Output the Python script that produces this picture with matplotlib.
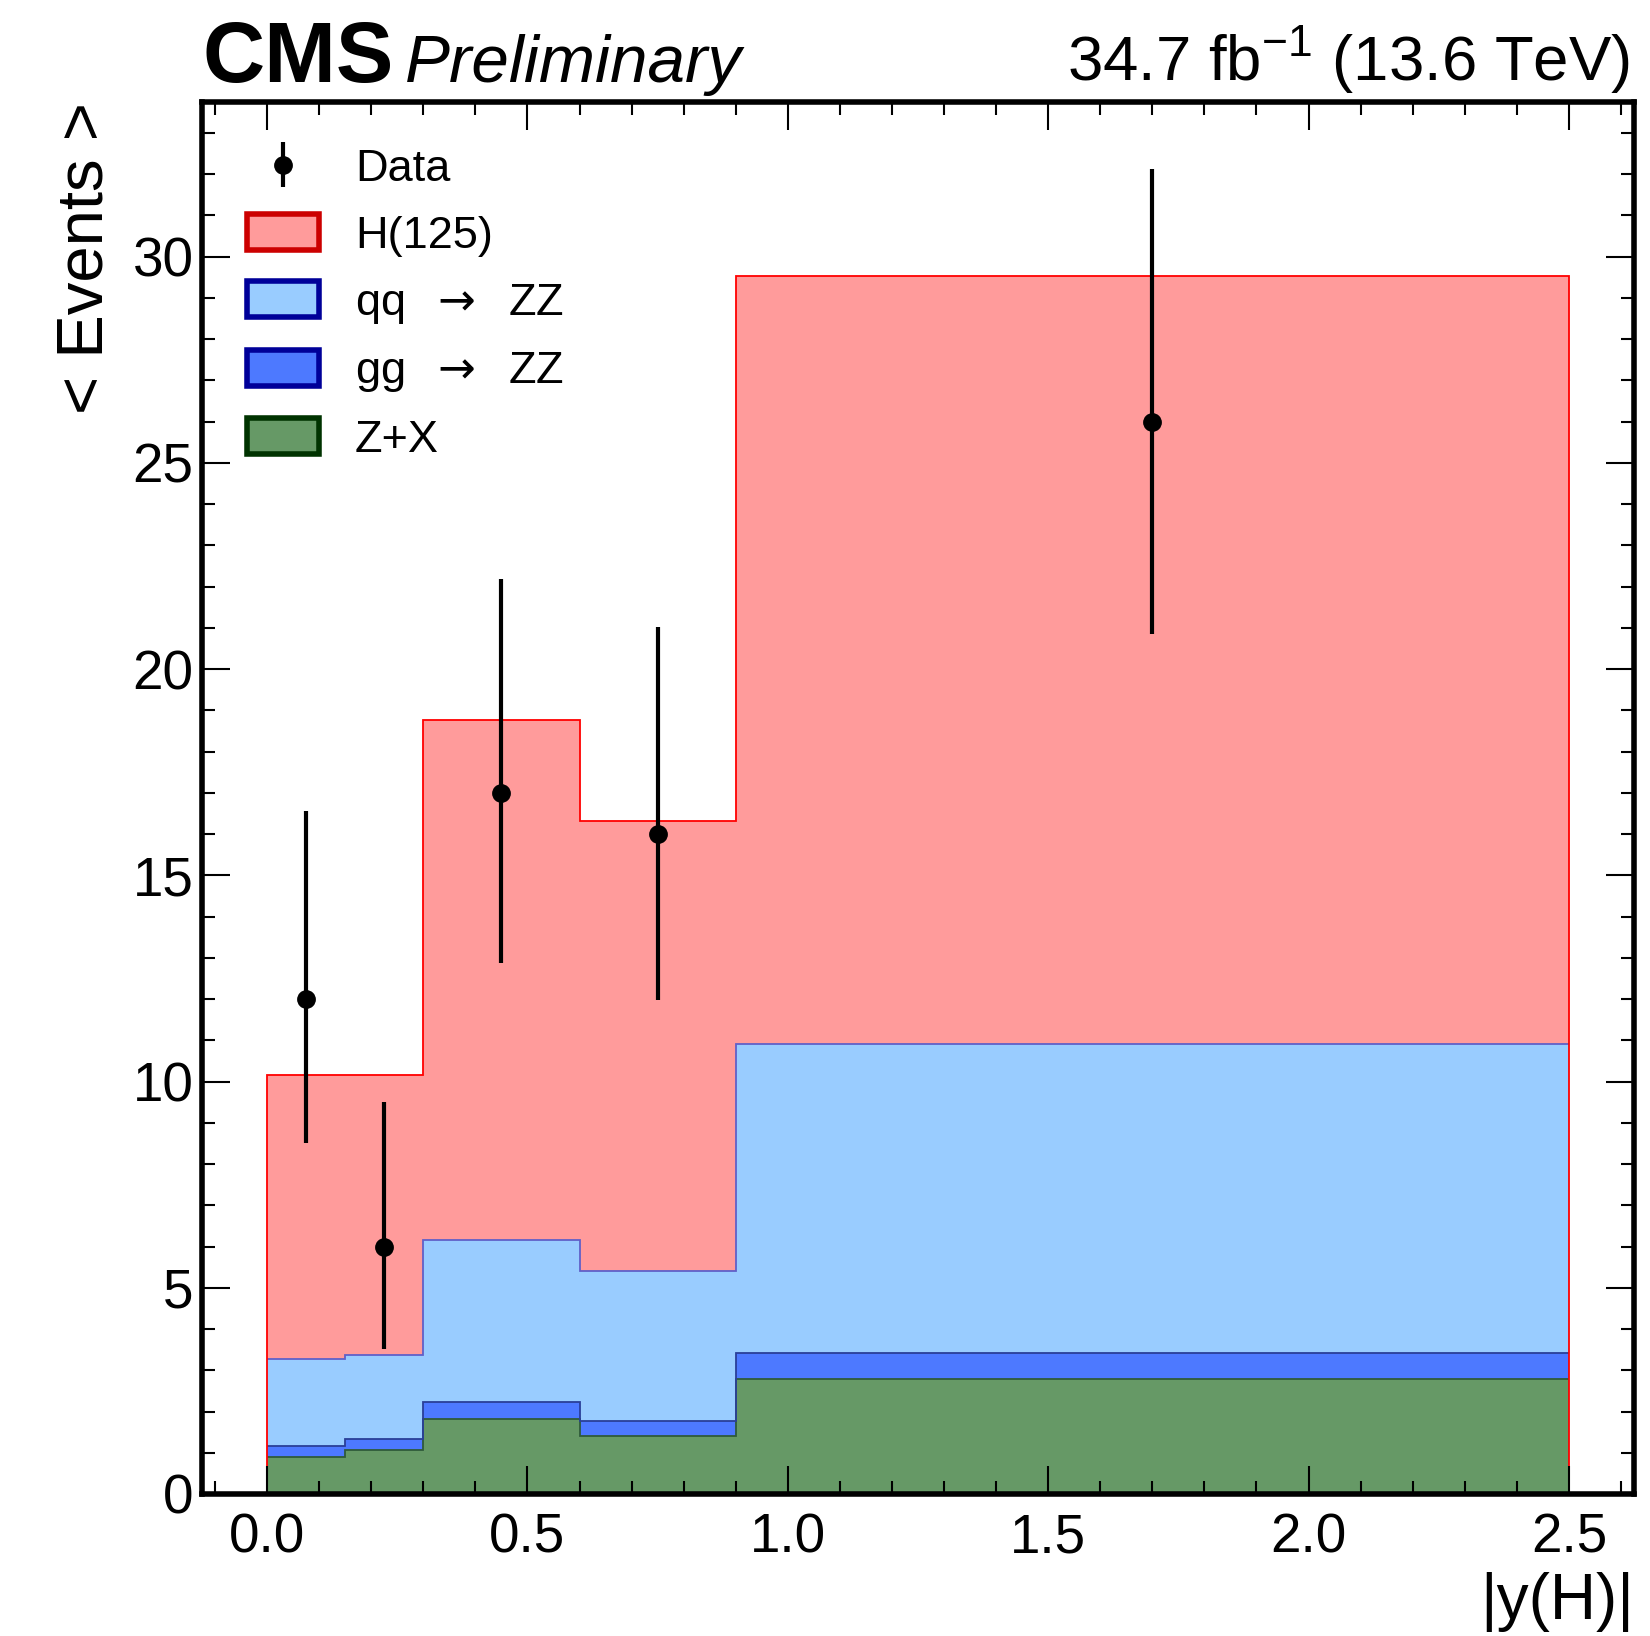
import numpy as np
import matplotlib
matplotlib.use("Agg")
import matplotlib.pyplot as plt
from matplotlib.patches import Patch

plt.rcParams['font.family'] = ['Liberation Sans', 'DejaVu Sans']
plt.rcParams['mathtext.fontset'] = 'custom'
plt.rcParams['mathtext.rm'] = 'Liberation Sans'
plt.rcParams['mathtext.it'] = 'Liberation Sans:italic'
plt.rcParams['mathtext.sf'] = 'DejaVu Sans'

# |y(H)| binning and expected yields per process
edges = [0.0, 0.15, 0.3, 0.6, 0.9, 2.5]
zx = [0.90, 1.07, 1.82, 1.40, 2.78]
ggzz = [0.26, 0.26, 0.41, 0.36, 0.63]
qqzz = [2.11, 2.04, 3.94, 3.64, 7.51]
h125 = [6.90, 6.80, 12.59, 10.91, 18.62]

# observed events with asymmetric Poisson errors
data = [12, 6, 17, 16, 26]
err_lo = [3.49, 2.48, 4.13, 4.02, 5.15]
err_hi = [4.55, 3.51, 5.18, 5.03, 6.12]

W, H = 1650, 1636
fig = plt.figure(figsize=(W / 100, H / 100), dpi=100)
ax = fig.add_axes([202 / W, 1 - 1494 / H, (1634 - 202) / W, (1494 - 102) / H])

edges = np.array(edges)
centers = 0.5 * (edges[1:] + edges[:-1])
s1 = np.array(zx)
s2 = s1 + np.array(ggzz)
s3 = s2 + np.array(qqzz)
s4 = s3 + np.array(h125)

# stacked fills, top first so lower layers sit over it
ax.stairs(s4, edges, baseline=0, fill=True, color='#ff9b9b', lw=0)
ax.stairs(s3, edges, baseline=0, fill=True, color='#99ccff', lw=0)
ax.stairs(s2, edges, baseline=0, fill=True, color='#4d79ff', lw=0)
ax.stairs(s1, edges, baseline=0, fill=True, color='#669966', lw=0)

ax.stairs(s1, edges, baseline=None, color='#2f5a3a', lw=1.3)
ax.stairs(s2, edges, baseline=None, color='#2a3f99', lw=1.3)
ax.stairs(s3, edges, baseline=None, color='#6060c8', lw=1.3)
ax.stairs(s4, edges, baseline=0, color='#ff0000', lw=1.3)

eb = ax.errorbar(centers, data, yerr=[err_lo, err_hi], fmt='o', color='black',
                 ms=12.5, elinewidth=3, capsize=0, zorder=5)

ax.set_xlim(-0.125, 2.625)
ax.set_ylim(0, 33.75)
ax.set_xticks(np.arange(0, 2.51, 0.5))
ax.set_xticks(np.arange(-0.1, 2.61, 0.1), minor=True)
ax.set_yticks(np.arange(0, 31, 5))
ax.set_yticks(np.arange(0, 34, 1), minor=True)
ax.set_xticklabels([f"{v:.1f}" for v in np.arange(0, 2.51, 0.5)])
ax.tick_params(which='both', direction='in', top=True, right=True, width=1.5,
               labelsize=39.5)
ax.tick_params(which='major', length=20)
ax.tick_params(which='minor', length=9.5)
ax.tick_params(axis='x', pad=13)
ax.tick_params(axis='y', pad=6)
for sp in ax.spines.values():
    sp.set_linewidth(4)
    sp.set_zorder(10)
ax.set_axisbelow(False)

ax.set_xlabel('|y(H)|', fontsize=46, loc='right', labelpad=6)
ax.set_ylabel('< Events >', fontsize=47, loc='top', labelpad=12)

arrow = r'$\mathsf{\rightarrow}$'
handles = [eb,
           Patch(facecolor='#ff9b9b', edgecolor='#cc0000', lw=4),
           Patch(facecolor='#99ccff', edgecolor='#000099', lw=4),
           Patch(facecolor='#4d79ff', edgecolor='#000099', lw=4),
           Patch(facecolor='#669966', edgecolor='#003300', lw=4)]
labels = ['Data', 'H(125)', f'qq  {arrow}  ZZ', f'gg  {arrow}  ZZ', 'Z+X']
ax.legend(handles, labels, loc='upper left', bbox_to_anchor=(0.006, 0.993),
          frameon=False, fontsize=32.5, handlelength=1.6, handleheight=0.85,
          handletextpad=0.8, labelspacing=0.53, borderpad=0.3)

fig.text(202 / W, 1 - 82 / H, 'CMS', fontsize=62, fontweight='bold',
         ha='left', va='baseline')
fig.text(405 / W, 1 - 82 / H, 'Preliminary', fontsize=48.5, style='italic',
         ha='left', va='baseline')
fig.text(1630 / W, 1 - 80 / H, r'34.7 fb$^{-1}$ (13.6 TeV)', fontsize=45.7,
         ha='right', va='baseline')

fig.savefig('out.png', dpi=100)
